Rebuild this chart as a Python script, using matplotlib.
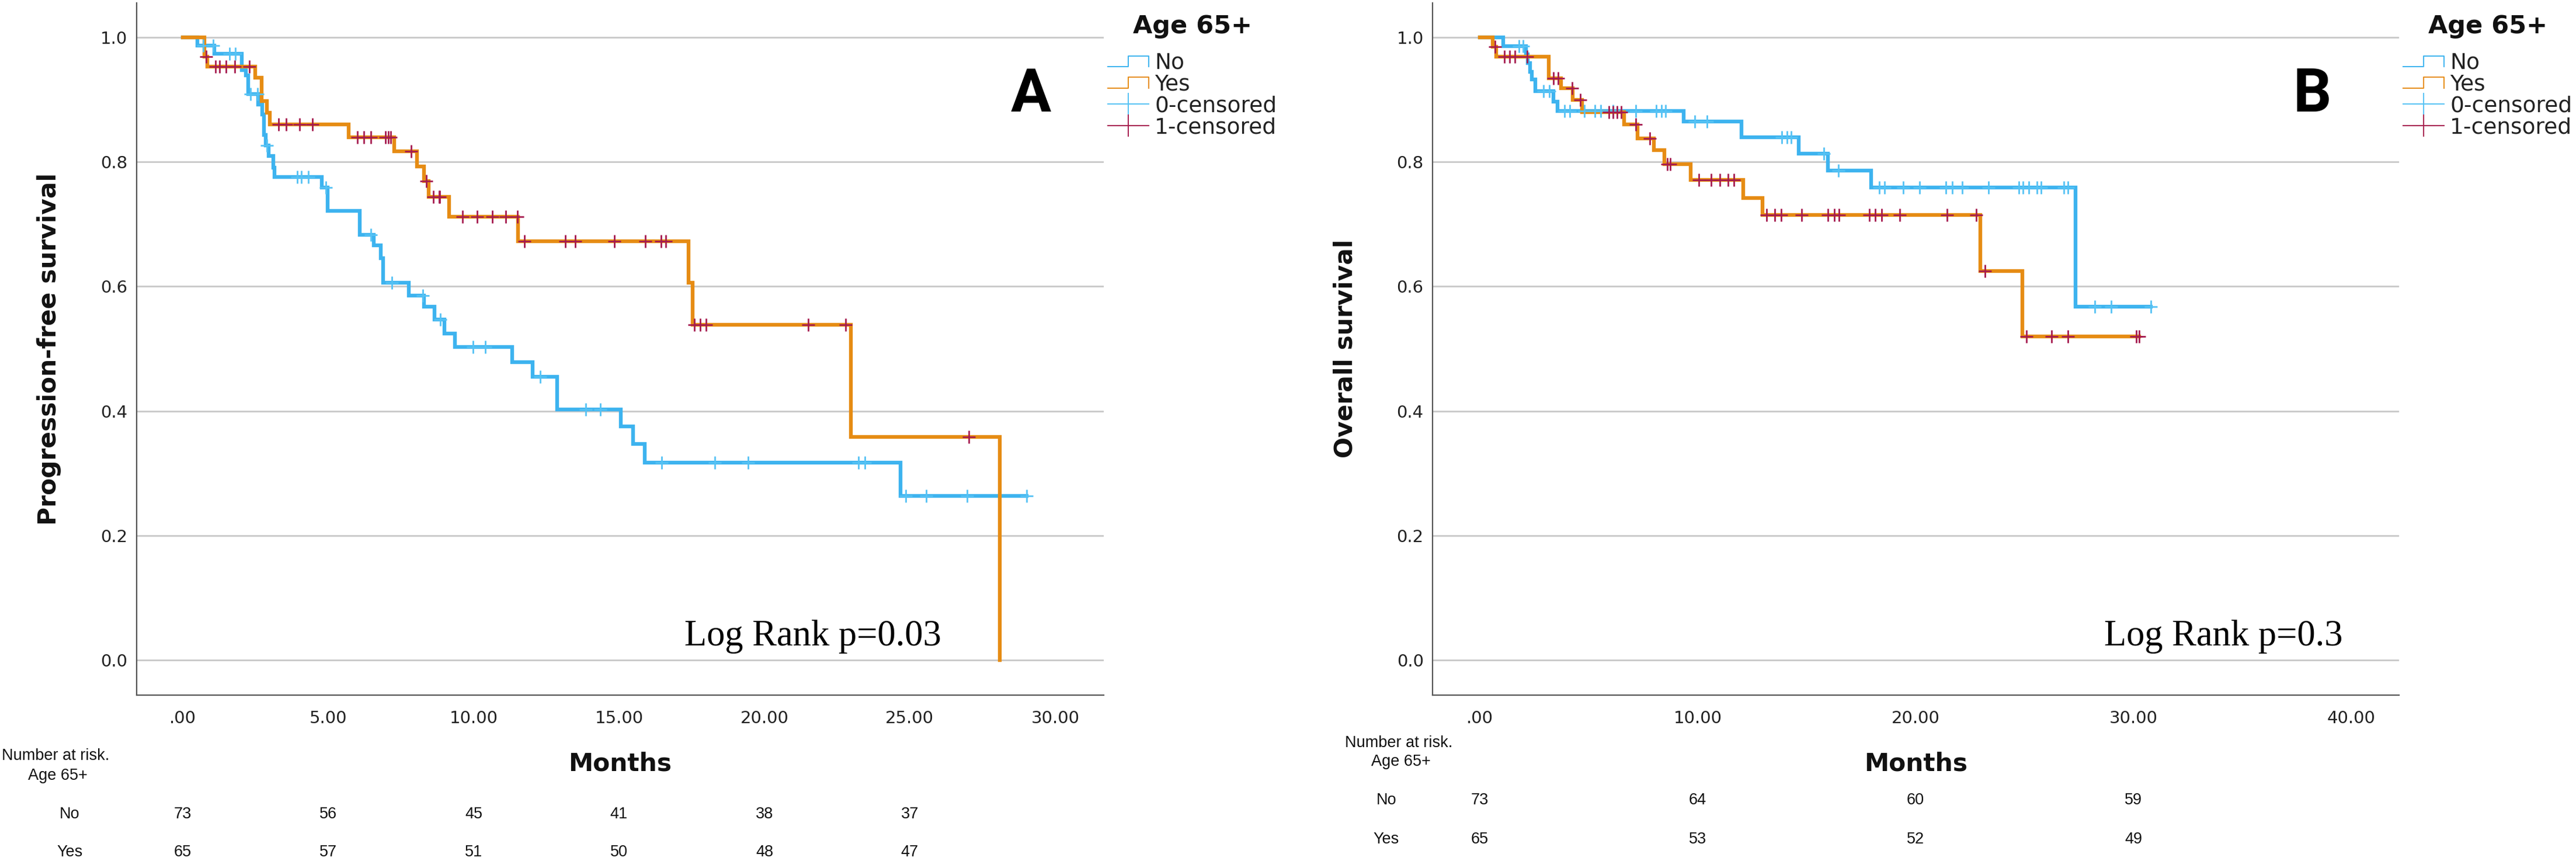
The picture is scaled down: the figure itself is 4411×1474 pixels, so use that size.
import numpy as np
import matplotlib
matplotlib.use("Agg")
import matplotlib.pyplot as plt
from matplotlib.lines import Line2D
from matplotlib.legend_handler import HandlerBase
from matplotlib.ticker import FuncFormatter
import matplotlib.transforms as mtransforms

# ---- panel A: progression-free survival (step times / survival after step / censor times)
a_no_t = [0.50, 1.08, 2.03, 2.17, 2.24, 2.59, 2.73, 2.80, 2.86, 2.96, 3.11, 3.15, 4.78, 4.98,
          6.08, 6.56, 6.81, 6.89, 7.77, 8.30, 8.65, 9.00, 9.35, 11.32, 12.03, 12.87,
          15.06, 15.48, 15.88, 24.68]
a_no_s = [0.987, 0.974, 0.947, 0.939, 0.909, 0.892, 0.876, 0.843, 0.826, 0.810, 0.791, 0.776, 0.759, 0.721,
          0.683, 0.666, 0.645, 0.606, 0.585, 0.568, 0.547, 0.524, 0.503, 0.478, 0.455, 0.402,
          0.375, 0.347, 0.317, 0.264]
a_no_c = [0.70, 1.04, 1.61, 1.81, 2.33, 2.57, 2.89, 3.94, 4.08, 4.32, 4.92, 6.47, 7.19, 8.25,
          8.86, 9.98, 10.40, 12.30, 13.86, 14.36, 16.47, 18.30, 19.44, 23.23, 23.45, 24.86,
          25.56, 26.97, 29.02]

a_yes_t = [0.75, 0.85, 2.49, 2.72, 2.89, 3.00, 5.70, 7.27, 8.05, 8.30, 8.45, 9.16, 11.53,
           17.39, 17.53, 22.97, 28.10]
a_yes_s = [0.969, 0.953, 0.935, 0.898, 0.879, 0.860, 0.840, 0.817, 0.793, 0.769, 0.744, 0.712, 0.673,
           0.606, 0.538, 0.358, 0.0]
a_yes_c = [0.80, 1.12, 1.27, 1.49, 1.79, 2.29, 3.29, 3.55, 4.02, 4.46, 6.00, 6.22, 6.47, 6.97,
           7.07, 7.15, 7.85, 8.37, 8.61, 8.81, 8.84, 9.62, 10.12, 10.65, 11.10, 11.50, 11.75,
           13.15, 13.50, 14.85, 15.90, 16.45, 16.60, 17.60, 17.80, 18.00, 21.50, 22.80, 27.03]

# ---- panel B: overall survival
b_no_t = [1.07, 2.12, 2.20, 2.30, 2.40, 2.55, 3.38, 3.57, 9.36, 12.00, 14.64, 15.98, 17.96, 27.35]
b_no_s = [0.986, 0.973, 0.959, 0.945, 0.932, 0.914, 0.897, 0.882, 0.865, 0.840, 0.813, 0.786, 0.759, 0.568]
b_no_c = [1.80, 1.98, 2.92, 3.19, 3.89, 4.13, 4.80, 5.28, 5.55, 6.11, 7.16, 8.10, 8.34, 8.53,
          9.87, 10.43, 13.86, 14.10, 14.30, 15.80, 16.46, 18.34, 18.58, 19.44, 20.20, 21.39,
          21.70, 22.15, 23.35, 24.74, 24.93, 25.20, 25.58, 25.76, 26.81, 27.00, 28.23, 28.98, 30.80]

b_yes_t = [0.60, 0.75, 3.16, 3.72, 4.26, 4.69, 6.62, 7.24, 7.99, 8.47, 9.68, 12.10, 12.98, 22.98, 24.90]
b_yes_s = [0.985, 0.969, 0.934, 0.918, 0.900, 0.880, 0.860, 0.838, 0.819, 0.796, 0.771, 0.742, 0.715,
           0.625, 0.520]
b_yes_c = [0.70, 1.13, 1.37, 1.61, 2.17, 3.38, 3.60, 4.23, 4.60, 5.93, 6.11, 6.30, 6.49, 7.16,
           7.80, 8.60, 8.74, 10.05, 10.62, 11.02, 11.39, 11.66, 13.16, 13.54, 13.83, 14.77,
           15.98, 16.27, 16.49, 17.88, 18.15, 18.44, 19.28, 21.45, 22.79, 23.19, 25.09, 26.25,
           27.00, 30.13, 30.27]

# ---- numbers at risk
risk_t_a = [0, 5, 10, 15, 20, 25]
risk_no_a = [73, 56, 45, 41, 38, 37]
risk_yes_a = [65, 57, 51, 50, 48, 47]
risk_t_b = [0, 10, 20, 30]
risk_no_b = [73, 64, 60, 59]
risk_yes_b = [65, 53, 52, 49]

xticks_a = [0, 5, 10, 15, 20, 25, 30]
xticks_b = [0, 10, 20, 30, 40]
yticks = [0.0, 0.2, 0.4, 0.6, 0.8, 1.0]
labels = ["No", "Yes", "0-censored", "1-censored"]

BLUE = "#3db3ef"
BLUE_C = "#55c2f4"
ORANGE = "#e68c14"
RED = "#a61c4f"


def km_path(times, surv, cens):
    end = max(times[-1], max(cens))
    x = np.r_[0.0, times, end]
    y = np.r_[1.0, surv, surv[-1]]
    return x, y


def level_at(times, surv, t):
    idx = np.searchsorted(times, t, side="right")
    return np.r_[1.0, surv][idx]


class StepHandler(HandlerBase):
    def create_artists(self, legend, orig_handle, xdescent, ydescent, width, height, fontsize, trans):
        x0 = -xdescent
        lo = -ydescent + 0.15 * height
        hi = -ydescent + 0.85 * height
        xs = [x0, x0 + 0.5 * width, x0 + 0.5 * width, x0 + width, x0 + width]
        ys = [lo, lo, hi, hi, lo]
        ln = Line2D(xs, ys, color=orig_handle.get_color(), lw=1.4, transform=trans)
        return [ln]


def xfmt(v, pos):
    s = f"{v:.2f}"
    return s[1:] if s.startswith("0.") else s


fig = plt.figure(figsize=(44.11, 14.74), dpi=100)
fig.patch.set_facecolor("white")

panels = [
    dict(rect=[0.05296, 0.19267, 0.37551, 0.80427], xlim=(-1.594, 31.67), xticks=xticks_a,
         no=(a_no_t, a_no_s, a_no_c), yes=(a_yes_t, a_yes_s, a_yes_c),
         ylabel="Progression-free survival", tag="A", tag_x=0.9245, p="Log Rank p=0.03", p_x=0.5665,
         risk=(risk_t_a, risk_no_a, risk_yes_a), risk_y=(0.0543, 0.0102),
         head=(0.0215, 0.1221, 0.0991), rowlab_x=0.027),
    dict(rect=[0.55611, 0.19267, 0.37520, 0.80427], xlim=(-2.17, 42.2), xticks=xticks_b,
         no=(b_no_t, b_no_s, b_no_c), yes=(b_yes_t, b_yes_s, b_yes_c),
         ylabel="Overall survival", tag="B", tag_x=0.910, p="Log Rank p=0.3", p_x=0.6949,
         risk=(risk_t_b, risk_no_b, risk_yes_b), risk_y=(0.0706, 0.0251),
         head=(0.5430, 0.1370, 0.1153), rowlab_x=0.5382),
]

for P in panels:
    ax = fig.add_axes(P["rect"])
    ax.set_xlim(*P["xlim"])
    ax.set_ylim(-0.0563, 1.0558)
    for s in ["top", "right"]:
        ax.spines[s].set_visible(False)
    for s in ["left", "bottom"]:
        ax.spines[s].set_color("#555555")
        ax.spines[s].set_linewidth(1.6)
    ax.set_yticks(yticks)
    ax.set_yticklabels([f"{v:.1f}" for v in yticks])
    ax.set_xticks(P["xticks"])
    ax.xaxis.set_major_formatter(FuncFormatter(xfmt))
    ax.tick_params(length=0, labelsize=21, colors="#222222")
    ax.tick_params(axis="y", pad=11)
    ax.tick_params(axis="x", pad=19)
    ax.yaxis.grid(True, color="#c8c8c8", lw=2.0)
    ax.set_axisbelow(True)

    # curves: blue below, orange above, censor marks on top
    for (t, s_, c), col, z in [(P["no"], BLUE, 3), (P["yes"], ORANGE, 4)]:
        x, y = km_path(t, s_, c)
        ax.step(x, y, where="post", color=col, lw=4.6, zorder=z, solid_joinstyle="miter")
    for (t, s_, c), ccol in [(P["no"], BLUE_C), (P["yes"], RED)]:
        ax.plot(c, level_at(t, s_, c), ls="none", marker="+", ms=16, mew=2.0, color=ccol, zorder=6)

    ax.set_ylabel(P["ylabel"], fontsize=30.5, fontweight="bold", family="DejaVu Sans", color="#111111")
    ax.yaxis.set_label_coords(-0.0776, 0.5)
    ax.set_xlabel("Months", fontsize=30.5, fontweight="bold", family="DejaVu Sans", color="#111111")
    ax.xaxis.label.set_va("center")
    ax.xaxis.set_label_coords(0.5, -0.0987)

    ax.text(P["tag_x"], 0.867, P["tag"], transform=ax.transAxes, ha="center", va="center",
            fontsize=74, fontweight="bold", family=["Roboto", "DejaVu Sans"], color="black")
    ax.text(P["p_x"], 0.0721, P["p"], transform=ax.transAxes, ha="left", va="baseline",
            fontsize=45, family=["Liberation Serif", "DejaVu Serif"], color="black")

    # legend
    h_no = Line2D([], [], color=BLUE)
    h_yes = Line2D([], [], color=ORANGE)
    h_c0 = Line2D([], [], color=BLUE_C, lw=1.4, marker="+", ms=27, mew=1.4)
    h_c1 = Line2D([], [], color=RED, lw=1.4, marker="+", ms=27, mew=1.4)
    leg = ax.legend([h_no, h_yes, h_c0, h_c1], labels, loc="upper left",
                    bbox_to_anchor=(1.0042, 0.928), frameon=False, fontsize=27,
                    handlelength=1.87, handletextpad=0.27, labelspacing=0.02,
                    borderpad=0, borderaxespad=0, numpoints=1,
                    handler_map={h_no: StepHandler(), h_yes: StepHandler()})
    for txt in leg.get_texts():
        txt.set_color("#222222")
    ax.text(1.030, 0.966, "Age 65+", transform=ax.transAxes, ha="left", va="center",
            fontsize=31, fontweight="bold", family="DejaVu Sans", color="#111111")

    # numbers at risk
    rt, rno, ryes = P["risk"]
    tr = mtransforms.blended_transform_factory(ax.transData, fig.transFigure)
    rfont = dict(fontsize=19.5, family=["Liberation Sans", "DejaVu Sans"], color="#111111",
                 ha="center", va="center")
    for t, n in zip(rt, rno):
        ax.text(t, P["risk_y"][0], str(n), transform=tr, **rfont)
    for t, n in zip(rt, ryes):
        ax.text(t, P["risk_y"][1], str(n), transform=tr, **rfont)
    hx, hy1, hy2 = P["head"]
    fig.text(hx, hy1, "Number at risk.", **rfont)
    fig.text(hx + 0.0009, hy2, "Age 65+", **rfont)
    fig.text(P["rowlab_x"], P["risk_y"][0], "No", **rfont)
    fig.text(P["rowlab_x"], P["risk_y"][1], "Yes", **rfont)

fig.savefig("out.png", dpi=100, facecolor="white")
